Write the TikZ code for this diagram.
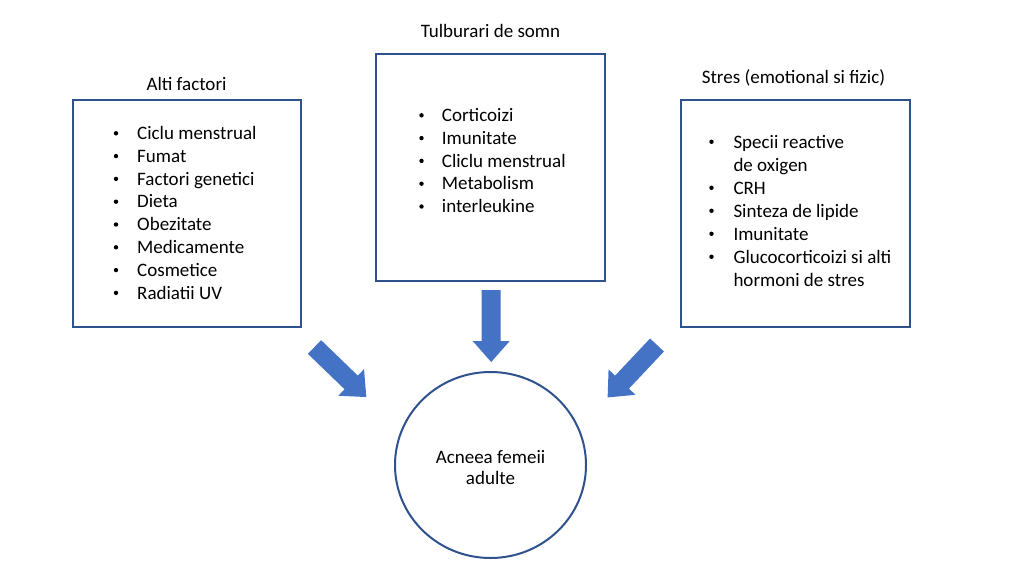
\documentclass[tikz,border=0pt]{standalone}
\usepackage{fontspec}
\setmainfont{Carlito}
\definecolor{boxblue}{HTML}{2F528F}
\definecolor{arrowblue}{HTML}{4472C4}
\begin{document}
\begin{tikzpicture}[x=1pt,y=-1pt,
  box/.style={draw=boxblue, line width=2pt},
  txt/.style={font=\fontsize{19}{23}\selectfont, inner sep=0pt, text=black},
  item/.style={txt, anchor=base west},
  bul/.style={circle, fill=black, inner sep=0pt, minimum size=4.4pt},
  ttl/.style={txt, anchor=base},
  barrow/.style={fill=arrowblue}]
\useasboundingbox[fill=white] (0,0) rectangle (1024,576);

% boxes
\draw[box] (72.5,99.5) rectangle (300.5,327);
\draw[box] (376,54) rectangle (605,281);
\draw[box] (681,99.5) rectangle (909.5,326.5);

% titles
\node[ttl] (t1) at (186.5,90) {Alti factori};
\node[ttl] (t2) at (490.5,37.5) {Tulburari de somn};
\node[ttl] (t3) at (793.5,83) {Stres (emotional si fizic)};

% left list
\foreach \t [count=\i] in {Ciclu menstrual,Fumat,Factori genetici,Dieta,Obezitate,Medicamente,Cosmetice,Radiatii UV}{
  \node[bul] (lb\i) at (116,139.5+22.8*\i-22.8-6.2) {};
  \node[item] (li\i) at (137,139.5+22.8*\i-22.8) {\t};
}

% middle list
\foreach \t [count=\i] in {Corticoizi,Imunitate,Cliclu menstrual,Metabolism,interleukine}{
  \node[bul] (mb\i) at (421.5,121.5+22.8*\i-22.8-6.2) {};
  \node[item] (mi\i) at (441.7,121.5+22.8*\i-22.8) {\t};
}

% right list
\foreach \y [count=\i] in {148,194,217,240,263}{
  \node[bul] (rb\i) at (711.5,\y-6.2) {};
}
\node[item] (ri1) at (733.3,148) {Specii reactive};
\node[item] (ri1b) at (733.3,171) {de oxigen};
\node[item] (ri2) at (733.3,194) {CRH};
\node[item] (ri3) at (733.3,217) {Sinteza de lipide};
\node[item] (ri4) at (733.3,240) {Imunitate};
\node[item] (ri5) at (733.3,263) {Glucocorticoizi si alti};
\node[item] (ri5b) at (733.3,286) {hormoni de stres};

% circle
\draw[boxblue, line width=2pt] (490.5,465) ellipse [x radius=95.5, y radius=93];
\node[txt, anchor=base] (c1) at (490.5,463) {Acneea femeii};
\node[txt, anchor=base] (c2) at (490.5,484) {adulte};

% block arrows
\foreach \px/\py/\ang in {491.2/290/-90, 314.5/347/-44, 657/345/-133.3}{
  \fill[barrow, shift={(\px,\py)}, rotate=\ang]
    (0,-9.5) -- (51,-9.5) -- (51,-18.5) -- (72,0) -- (51,18.5) -- (51,9.5) -- (0,9.5) -- cycle;
}
\end{tikzpicture}
\end{document}
